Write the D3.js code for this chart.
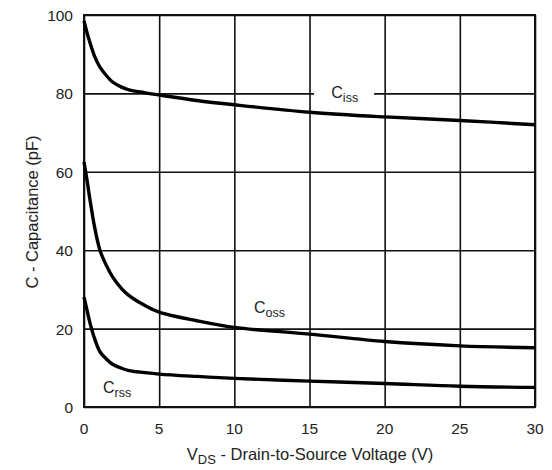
<!DOCTYPE html>
<html>
  <head>
    <meta charset="utf-8">
    <title>Capacitance vs VDS</title>
    <script src="https://d3js.org/d3.v7.min.js"></script>
    <style>
      body { margin: 0; background: #fff; }
      svg text { font-family: "Liberation Sans", Arial, sans-serif; fill: #222; }
    </style>
  </head>
  <body>
    <div id="chart"></div>
    <script>
      // values
      var vds = [0, 0.2, 0.4, 0.7, 1.06, 1.5, 1.9, 2.5, 3, 4, 5, 7.5, 10, 15, 20, 25, 30];
      var ciss = [98.5, 95.5, 92.9, 89.5, 86.7, 84.5, 82.9, 81.6, 80.9, 80.2, 79.6, 78.2, 77.1, 75.2, 74, 73.1, 72];
      var coss = [62.5, 57.9, 52.8, 46, 40, 36, 33.2, 30.2, 28.4, 26, 24.2, 22, 20.3, 18.6, 16.7, 15.6, 15.1];
      var crss = [28, 24.7, 21.4, 17.5, 14.1, 12.2, 10.9, 9.9, 9.3, 8.8, 8.4, 7.8, 7.3, 6.6, 6, 5.3, 5];
      var xTicks = [0, 5, 10, 15, 20, 25, 30];
      var yTicks = [0, 20, 40, 60, 80, 100];

      var width = 552, height = 470;
      var margin = { top: 15, right: 17, bottom: 63, left: 84 };

      var svg = d3.select("#chart").append("svg")
        .attr("width", width)
        .attr("height", height);

      var x = d3.scaleLinear().domain([0, 30]).range([margin.left, width - margin.right]);
      var y = d3.scaleLinear().domain([0, 100]).range([height - margin.bottom, margin.top]);

      // grid
      svg.append("g")
        .attr("transform", "translate(0," + y(0) + ")")
        .call(d3.axisBottom(x).tickValues(xTicks).tickSize(-(y(0) - y(100))).tickFormat(""))
        .call(function(g) {
          g.select(".domain").remove();
          g.selectAll("line").attr("stroke", "#111").attr("stroke-width", 1.6);
        });
      svg.append("g")
        .attr("transform", "translate(" + x(0) + ",0)")
        .call(d3.axisLeft(y).tickValues(yTicks).tickSize(-(x(30) - x(0))).tickFormat(""))
        .call(function(g) {
          g.select(".domain").remove();
          g.selectAll("line").attr("stroke", "#111").attr("stroke-width", 1.6);
        });

      // frame
      svg.append("rect")
        .attr("x", x(0)).attr("y", y(100))
        .attr("width", x(30) - x(0)).attr("height", y(0) - y(100))
        .attr("fill", "none").attr("stroke", "#111").attr("stroke-width", 2);

      // tick labels
      svg.append("g").selectAll("text")
        .data(xTicks).join("text")
          .attr("x", function(d) { return x(d); })
          .attr("y", y(0) + 27)
          .attr("text-anchor", "middle")
          .style("font-size", "15.5px")
          .text(function(d) { return d; });
      svg.append("g").selectAll("text")
        .data(yTicks).join("text")
          .attr("x", x(0) - 11)
          .attr("y", function(d) { return y(d) + 6; })
          .attr("text-anchor", "end")
          .style("font-size", "15.5px")
          .text(function(d) { return d; });

      // curves
      var line = d3.line()
        .x(function(d) { return x(d[0]); })
        .y(function(d) { return y(d[1]); })
        .curve(d3.curveCatmullRom.alpha(0.5));
      [ciss, coss, crss].forEach(function(series) {
        svg.append("path")
          .datum(vds.map(function(v, i) { return [v, series[i]]; }))
          .attr("d", line)
          .attr("fill", "none")
          .attr("stroke", "#000")
          .attr("stroke-width", 3.4)
          .attr("stroke-linejoin", "round");
      });

      // curve labels
      svg.append("rect")
        .attr("x", x(15.3)).attr("y", y(83))
        .attr("width", x(19.3) - x(15.3)).attr("height", y(78.5) - y(83))
        .attr("fill", "#fff");
      function label(vx, vy, sub) {
        var t = svg.append("text")
          .attr("x", x(vx)).attr("y", y(vy))
          .style("font-size", "16px");
        t.append("tspan").text("C");
        t.append("tspan").attr("dy", 4).style("font-size", "12.5px").text(sub);
      }
      label(16.45, 78.8, "iss");
      label(11.3, 24, "oss");
      label(1.26, 3.6, "rss");

      // axis titles
      var xt = svg.append("text")
        .attr("x", 310)
        .attr("y", 460)
        .attr("text-anchor", "middle")
        .style("font-size", "16.5px");
      xt.append("tspan").text("V");
      xt.append("tspan").attr("dy", 4).style("font-size", "13px").text("DS");
      xt.append("tspan").attr("dy", -4).text(" - Drain-to-Source Voltage (V)");

      svg.append("text")
        .attr("transform", "translate(38,212) rotate(-90)")
        .attr("text-anchor", "middle")
        .style("font-size", "16.5px")
        .text("C - Capacitance (pF)");
    </script>
  </body>
</html>
